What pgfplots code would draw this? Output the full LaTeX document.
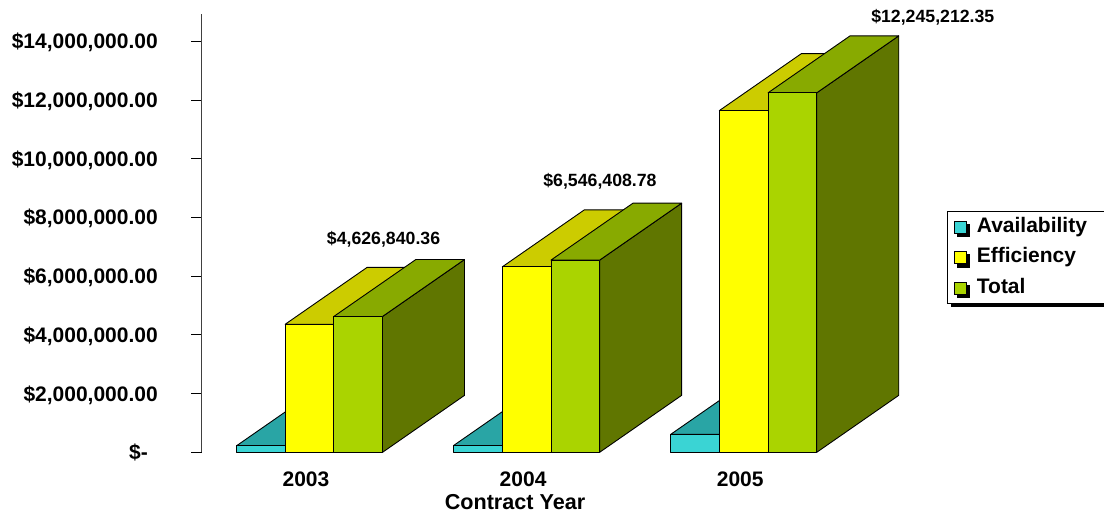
\documentclass[border=0pt]{standalone}
\usepackage{pgfplots}
\pgfplotsset{compat=1.18}
\usepackage{fontspec}
\setmainfont{Liberation Sans}
\usetikzlibrary{shadows}

\definecolor{avF}{HTML}{3AD4D4}
\definecolor{avT}{HTML}{29A5A5}
\definecolor{avS}{HTML}{1F7F7F}
\definecolor{efF}{HTML}{FFFF00}
\definecolor{efT}{HTML}{CCCC00}
\definecolor{efS}{HTML}{999900}
\definecolor{toF}{HTML}{AAD400}
\definecolor{toT}{HTML}{88AA00}
\definecolor{toS}{HTML}{607600}

\newcommand{\bw}{0.2243}
\newcommand{\ddx}{0.3777}
\newcommand{\ddy}{1.94}

% #1 category index, #2 series index, #3 value (millions), #4 colour prefix
\newcommand{\threedbar}[4]{%
  \pgfmathsetmacro\xl{#1+(#2-1.5)*\bw}%
  \pgfmathsetmacro\xr{\xl+\bw}%
  \pgfmathsetmacro\xld{\xl+\ddx}%
  \pgfmathsetmacro\xrd{\xr+\ddx}%
  \pgfmathsetmacro\vv{#3}%
  \pgfmathsetmacro\vd{#3+\ddy}%
  \addplot[forget plot, mark=none, draw=black, line width=0.9pt, line join=round, fill=#4S]
    coordinates {(\xr,0) (\xrd,\ddy) (\xrd,\vd) (\xr,\vv)} -- cycle;
  \addplot[forget plot, mark=none, draw=black, line width=0.9pt, line join=round, fill=#4T]
    coordinates {(\xl,\vv) (\xr,\vv) (\xrd,\vd) (\xld,\vd)} -- cycle;
  \addplot[forget plot, mark=none, draw=black, line width=0.9pt, line join=round, fill=#4F]
    coordinates {(\xl,0) (\xr,0) (\xr,\vv) (\xl,\vv)} -- cycle;
}

\begin{document}
\begin{tikzpicture}
\useasboundingbox (0,0) rectangle (1104pt,525pt);
\begin{axis}[
  at={(201.7pt,72.7pt)}, anchor=south west,
  scale only axis, width=737.4pt, height=438.3pt,
  xmin=-0.4965, xmax=2.9, ymin=0, ymax=14.93,
  clip=false,
  axis lines=left,
  axis line style={-, draw=black!75, line width=1pt},
  x axis line style={draw=none},
  xtick={0,1,2}, xticklabels={2003,2004,2005},
  major x tick style={draw=none},
  ytick={0,2,4,6,8,10,12,14},
  yticklabels={{\$-\hspace*{10pt}},{\$2,000,000.00},{\$4,000,000.00},{\$6,000,000.00},{\$8,000,000.00},{\$10,000,000.00},{\$12,000,000.00},{\$14,000,000.00}},
  tick align=outside,
  major tick length=10.5pt,
  major y tick style={draw=black, line width=1pt},
  tick label style={font=\fontsize{21}{25}\selectfont\bfseries, inner sep=0pt},
  yticklabel style={anchor=base east, xshift=-33.2pt, yshift=-7.5pt},
  xticklabel style={anchor=base, xshift=-3.5pt, yshift=-23.9pt},
  xlabel={Contract Year},
  xlabel style={at={(axis description cs:0.4249,0)}, anchor=base, yshift=-57.7pt, inner sep=0pt, font=\fontsize{21.6}{25}\selectfont\bfseries},
  legend style={at={(1.0107,0.5512)}, anchor=north west, draw=black, line width=1.2pt,
    font=\fontsize{21}{25}\selectfont\bfseries, fill=white,
    general shadow={fill=black, shadow xshift=3pt, shadow yshift=-3.5pt},
    nodes={inner sep=0pt, text height=15pt, text depth=4.5pt},
    row sep=11pt, inner xsep=6.7pt, inner ysep=6pt, column sep=9.7pt},
  legend cell align=left,
]
% 2003
\threedbar{0}{0}{0.22}{av}
\threedbar{0}{1}{4.36}{ef}
\threedbar{0}{2}{4.627}{to}
% 2004
\threedbar{1}{0}{0.23}{av}
\threedbar{1}{1}{6.316}{ef}
\threedbar{1}{2}{6.546}{to}
% 2005
\threedbar{2}{0}{0.61}{av}
\threedbar{2}{1}{11.64}{ef}
\threedbar{2}{2}{12.245}{to}

\addlegendimage{legend image code/.code={\draw[fill=avF, draw=black, line width=0.9pt] (0pt,-6pt) rectangle (12pt,6pt);}}
\addlegendentry{Availability\hspace*{30pt}}
\addlegendimage{legend image code/.code={\draw[fill=efF, draw=black, line width=0.9pt] (0pt,-6pt) rectangle (12pt,6pt);}}
\addlegendentry{Efficiency}
\addlegendimage{legend image code/.code={\draw[fill=toF, draw=black, line width=0.9pt] (0pt,-6pt) rectangle (12pt,6pt);}}
\addlegendentry{Total}

\node[anchor=base, inner sep=0pt, font=\fontsize{17.7}{20}\selectfont\bfseries] at (axis cs:0.341,7.078) {\$4,626,840.36};
\node[anchor=base, inner sep=0pt, font=\fontsize{17.7}{20}\selectfont\bfseries] at (axis cs:1.338,9.07) {\$6,546,408.78};
\node[anchor=base, inner sep=0pt, font=\fontsize{17.7}{20}\selectfont\bfseries] at (axis cs:2.871,14.656) {\$12,245,212.35};
\end{axis}
\end{tikzpicture}
\end{document}
